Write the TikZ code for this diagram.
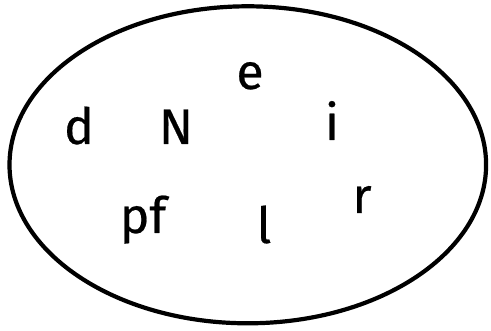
\documentclass[tikz,border=0pt]{standalone}
\usepackage{fontspec}
\setmainfont{Fira Sans}[FakeBold=0.4,AutoFakeBold=0.4]
\begin{document}
\begin{tikzpicture}[x=1pt,y=-1pt,
  lab/.style={anchor=base,inner sep=0pt,font=\fontsize{50}{60}\selectfont\bfseries}]
\useasboundingbox (0,0) rectangle (491,331);
\draw[line width=4.2pt] (247.8,164.8) ellipse [x radius=238.3,y radius=158.5];
\node[lab] (d) at (79,144) {d};
\node[lab] (N) at (176,144) {N};
\node[lab] (e) at (250,89) {e};
\node[lab] (i) at (332,140) {i};
\node[lab] (r) at (362,213) {r};
\node[lab] (pf) at (143,233) {pf};
\node[lab] (l) at (264,243) {l};
\end{tikzpicture}
\end{document}
